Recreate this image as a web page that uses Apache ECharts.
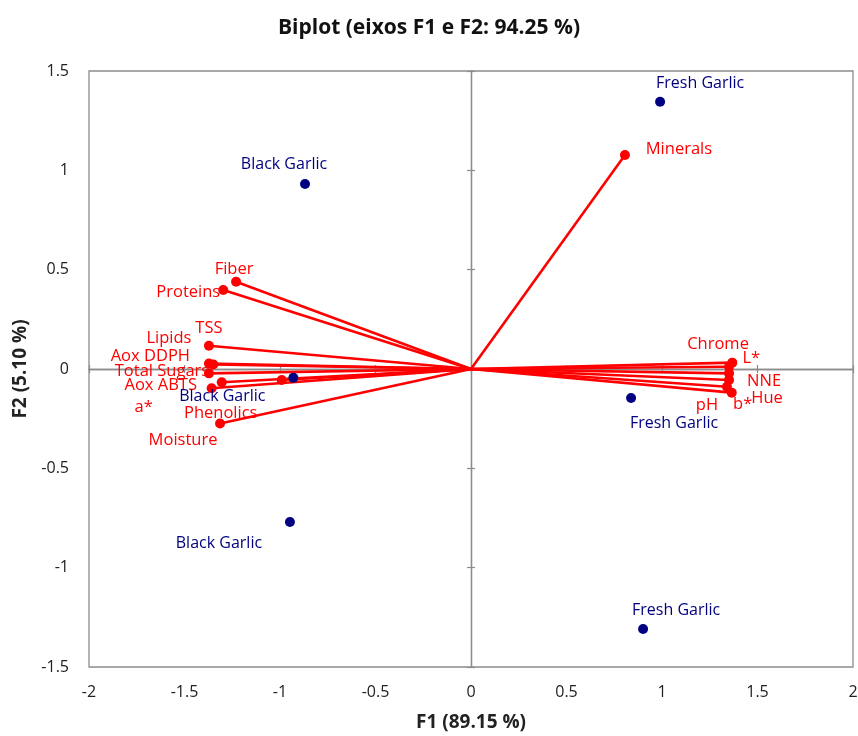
<!DOCTYPE html>
<html><head><meta charset="utf-8">
<script src="https://cdn.jsdelivr.net/npm/echarts@6/dist/echarts.min.js"></script>
<style>html,body{margin:0;padding:0;background:#fff}#c{width:858px;height:736px}</style>
</head><body><div id="c"></div>
<script>
// ---- data ----
const chartTitle = 'Biplot (eixos F1 e F2: 94.25 %)';
const xAxisName = 'F1 (89.15 %)';
const yAxisName = 'F2 (5.10 %)';
const xTicks = [-2, -1.5, -1, -0.5, 0, 0.5, 1, 1.5, 2];
const yTicks = [-1.5, -1, -0.5, 0, 0.5, 1, 1.5];

const variableNames = ['Fiber','Proteins','TSS','Lipids','Aox DDPH','Total Sugars','Aox ABTS','a*','Phenolics','Moisture','Minerals','L*','Chrome','NNE','Hue','pH','b*'];
const variableF1 = [-1.230,-1.297,-1.372,-1.372,-1.349,-1.372,-1.305,-1.358,-0.991,-1.314,0.806,1.368,1.351,1.351,1.351,1.340,1.365];
const variableF2 = [0.439,0.398,0.117,0.028,0.023,-0.022,-0.067,-0.097,-0.055,-0.274,1.077,0.032,0.011,-0.022,-0.055,-0.089,-0.119];

const observationNames = ['Fresh Garlic','Black Garlic','Black Garlic','Fresh Garlic','Black Garlic','Fresh Garlic'];
const observationF1 = [0.990,-0.869,-0.930,0.838,-0.948,0.901];
const observationF2 = [1.345,0.931,-0.044,-0.146,-0.770,-1.309];

// ---- label layout (pixel offsets of label centres from their marks) ----
const variableLabelOffsets = [[-2,-12],[-35,2],[0,-17],[-40,-25],[-63,-8],[-47,-2],[-61,3],[-68,19],[-61,33],[-37,17],[54,-6],[19,-4],[-11,-23],[35,8],[38,18],[-20,19],[11,12]];
const observationLabelOffsets = [[40,-18],[-21,-20],[-71,19],[43,25],[-71,21],[33,-19]];

const RED = '#ff0000';
const NAVY = '#000080';
const FONT = 'Open Sans';

const xMin = xTicks[0], xMax = xTicks[xTicks.length-1], xStep = xTicks[1]-xTicks[0];
const yMin = yTicks[0], yMax = yTicks[yTicks.length-1], yStep = yTicks[1]-yTicks[0];

function valueAxis(min, max, step, extra) {
  return Object.assign({
    type: 'value', min: min, max: max, interval: step,
    splitLine: {show: false}
  }, extra);
}

const zeroLine = {show: true, onZero: true, onZeroAxisIndex: 0, lineStyle: {color: '#8c8c8c', width: 1.3}};
const tickStyle = {color: '#8c8c8c', width: 1.2};

const xAxes = [
  valueAxis(xMin, xMax, xStep, {
    position: 'bottom',
    axisLine: {show: false, onZero: false},
    axisTick: {show: false},
    axisLabel: {color: '#222', fontFamily: FONT, fontSize: 16, margin: 17},
    name: xAxisName, nameLocation: 'middle', nameGap: 46,
    nameTextStyle: {color: '#222', fontFamily: FONT, fontSize: 19, fontWeight: 'bold'}
  }),
  valueAxis(xMin, xMax, xStep, {
    position: 'bottom', axisLine: zeroLine,
    axisTick: {show: true, inside: false, length: 4, lineStyle: tickStyle},
    axisLabel: {show: false}
  }),
  valueAxis(xMin, xMax, xStep, {
    position: 'bottom', axisLine: zeroLine,
    axisTick: {show: true, inside: true, length: 4, lineStyle: tickStyle},
    axisLabel: {show: false}
  })
];
const yAxes = [
  valueAxis(yMin, yMax, yStep, {
    position: 'left',
    axisLine: {show: false, onZero: false},
    axisTick: {show: false},
    axisLabel: {color: '#222', fontFamily: FONT, fontSize: 16, margin: 20},
    name: yAxisName, nameLocation: 'middle', nameGap: 56, nameRotate: 90,
    nameTextStyle: {color: '#222', fontFamily: FONT, fontSize: 19, fontWeight: 'bold'}
  }),
  valueAxis(yMin, yMax, yStep, {
    position: 'left', axisLine: zeroLine,
    axisTick: {show: true, inside: false, length: 4, lineStyle: tickStyle},
    axisLabel: {show: false}
  }),
  valueAxis(yMin, yMax, yStep, {
    position: 'left', axisLine: zeroLine,
    axisTick: {show: true, inside: true, length: 4, lineStyle: tickStyle},
    axisLabel: {show: false}
  })
];

const series = [];
// vectors from the origin
variableNames.forEach(function (name, i) {
  series.push({
    type: 'line', xAxisIndex: 0, yAxisIndex: 0,
    data: [[0, 0], [variableF1[i], variableF2[i]]],
    showSymbol: false, silent: true, z: 3,
    lineStyle: {color: RED, width: 2.6, opacity: 1}
  });
});
// variable end points with labels
series.push({
  type: 'scatter', xAxisIndex: 0, yAxisIndex: 0, z: 4,
  symbolSize: 10, itemStyle: {color: RED, opacity: 1},
  data: variableNames.map(function (name, i) {
    return {
      value: [variableF1[i], variableF2[i]], name: name,
      label: {offset: variableLabelOffsets[i]}
    };
  }),
  label: {
    show: true, position: 'inside', formatter: '{b}',
    color: RED, fontFamily: FONT, fontSize: 16.5
  }
});
// observations
series.push({
  type: 'scatter', xAxisIndex: 0, yAxisIndex: 0, z: 5,
  symbolSize: 10, itemStyle: {color: NAVY, opacity: 1},
  data: observationNames.map(function (name, i) {
    return {
      value: [observationF1[i], observationF2[i]], name: name,
      label: {offset: observationLabelOffsets[i]}
    };
  }),
  label: {
    show: true, position: 'inside', formatter: '{b}',
    color: NAVY, fontFamily: FONT, fontSize: 16
  }
});

const chart = echarts.init(document.getElementById('c'), null, {renderer: 'canvas'});
chart.setOption({
  backgroundColor: '#fff',
  animation: false,
  title: {
    text: chartTitle, left: 'center', top: 13,
    textStyle: {fontFamily: FONT, fontSize: 21, fontWeight: 'bold', color: '#111'}
  },
  grid: {
    left: 89, right: 5, top: 71, bottom: 69,
    outerBoundsMode: 'none',
    show: true, borderColor: '#8c8c8c', borderWidth: 1.3, backgroundColor: 'transparent'
  },
  xAxis: xAxes,
  yAxis: yAxes,
  series: series
});
</script>
</body></html>
